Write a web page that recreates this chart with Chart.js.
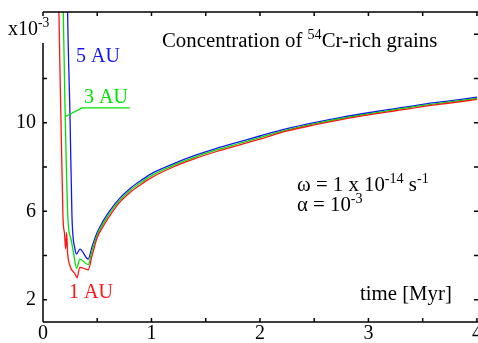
<!DOCTYPE html>
<html>
<head>
<meta charset="utf-8">
<script src="https://cdn.jsdelivr.net/npm/chart.js@4.4.0/dist/chart.umd.min.js"></script>
<style>
  html, body { margin: 0; padding: 0; background: #fff; }
  #chart { display: block; }
</style>
</head>
<body>
<canvas id="chart" width="478" height="343"></canvas>
<script>
// steep early part of each curve (time in Myr, concentration in 1e-3)
const time1AU = [0.143, 0.147, 0.165, 0.184, 0.199, 0.209, 0.218, 0.226, 0.249, 0.295, 0.313, 0.34, 0.417];
const conc1AU = [17, 14.95, 10.3, 5.78, 4.95, 4.3, 5.05, 4.16, 3.53, 3.17, 3.0, 3.47, 3.36];
const time3AU = [0.183, 0.187, 0.205, 0.23, 0.26, 0.279, 0.31, 0.34, 0.417];
const conc3AU = [17, 14.95, 10.3, 5.65, 4.7, 4.2, 3.42, 3.84, 3.59];
const time5AU = [0.222, 0.227, 0.249, 0.267, 0.295, 0.31, 0.34, 0.417];
const conc5AU = [17, 14.95, 10.27, 5.78, 4.29, 4.07, 4.29, 3.84];

// slow rise, shared time grid
const timeLate = [0.45, 0.5, 0.55, 0.6, 0.7, 0.8, 0.9, 1.0, 1.2, 1.4, 1.6, 1.8, 2.0, 2.25, 2.5, 2.75, 3.0, 3.25, 3.5, 3.75, 4.0];
const late1AU = [3.95, 4.81, 5.28, 5.68, 6.37, 6.84, 7.20, 7.52, 8.00, 8.38, 8.70, 8.98, 9.26, 9.63, 9.90, 10.14, 10.35, 10.54, 10.73, 10.89, 11.05];
const late3AU = [4.18, 4.93, 5.40, 5.80, 6.46, 6.93, 7.29, 7.61, 8.07, 8.45, 8.77, 9.05, 9.33, 9.68, 9.95, 10.19, 10.40, 10.59, 10.78, 10.94, 11.10];
const late5AU = [4.37, 5.05, 5.52, 5.92, 6.55, 7.02, 7.38, 7.70, 8.14, 8.52, 8.84, 9.12, 9.40, 9.73, 10.00, 10.24, 10.45, 10.64, 10.83, 10.99, 11.15];

// tick values and labels
const xTickValues = [0, 0.5, 1, 1.5, 2, 2.5, 3, 3.5, 4];
const xTickLabels = ['0', '', '1', '', '2', '', '3', '', '4'];
const yTickValues = [2, 4, 6, 8, 10, 12, 14];
const yTickLabels = ['2', '', '6', '', '10', '', ''];

const SERIF = '"Liberation Serif", "Times New Roman", serif';
const TEXT_SIZE = 20.8;

function toPoints(t1, c1, t2, c2) {
    return t1.map((t, i) => ({ x: t, y: c1[i] })).concat(t2.map((t, i) => ({ x: t, y: c2[i] })));
}

function richText(ctx, parts, x, y, size) {
    for (const [txt, sup] of parts) {
        ctx.font = (sup ? size * 0.68 : size) + 'px ' + SERIF;
        ctx.fillText(txt, x, sup ? y - size * 0.38 : y);
        x += ctx.measureText(txt).width;
    }
}

// frame with inward ticks, the gap in the left axis, and all annotations
const decorations = {
    id: 'decorations',
    afterDatasetsDraw(chart) {
        const { ctx, chartArea: a, scales: { x, y } } = chart;
        ctx.save();
        ctx.strokeStyle = '#000';
        ctx.lineWidth = 1.5;
        ctx.beginPath();
        ctx.moveTo(a.left, a.top); ctx.lineTo(a.right, a.top);
        ctx.moveTo(a.left, a.bottom); ctx.lineTo(a.right, a.bottom);
        ctx.moveTo(a.left, y.getPixelForValue(13.6)); ctx.lineTo(a.left, a.bottom);
        xTickValues.forEach((v) => {
            const px = x.getPixelForValue(v);
            ctx.moveTo(px, a.bottom); ctx.lineTo(px, a.bottom - 4);
            ctx.moveTo(px, a.top); ctx.lineTo(px, a.top + 4);
        });
        yTickValues.forEach((v) => {
            const py = y.getPixelForValue(v);
            if (v < 13.6) { ctx.moveTo(a.left, py); ctx.lineTo(a.left + 4, py); }
            ctx.moveTo(a.right, py); ctx.lineTo(a.right - 4, py);
        });
        ctx.stroke();

        // leader line for the 3 AU label
        ctx.strokeStyle = 'rgb(0,225,0)';
        ctx.lineWidth = 1.3;
        ctx.beginPath();
        ctx.moveTo(x.getPixelForValue(0.203), y.getPixelForValue(10.27));
        ctx.lineTo(x.getPixelForValue(0.36), y.getPixelForValue(10.67));
        ctx.lineTo(x.getPixelForValue(0.8), y.getPixelForValue(10.67));
        ctx.stroke();

        ctx.textAlign = 'left';
        ctx.textBaseline = 'alphabetic';
        ctx.fillStyle = '#000';
        richText(ctx, [['x10', false], ['-3', true]], 8, 35, 20);
        richText(ctx, [['Concentration of ', false], ['54', true], ['Cr-rich grains', false]], 162, 47, TEXT_SIZE);
        richText(ctx, [['\u03c9 = 1 x 10', false], ['-14', true], [' s', false], ['-1', true]], 297, 191, TEXT_SIZE);
        richText(ctx, [['\u03b1 = 10', false], ['-3', true]], 297, 211, TEXT_SIZE);
        richText(ctx, [['time [Myr]', false]], 360, 300, TEXT_SIZE);
        ctx.fillStyle = 'rgb(20,20,255)';
        richText(ctx, [['5 AU', false]], 76, 62, 20);
        ctx.fillStyle = 'rgb(0,225,0)';
        richText(ctx, [['3 AU', false]], 84, 103, 20);
        ctx.fillStyle = 'rgb(255,20,20)';
        richText(ctx, [['1 AU', false]], 69, 298, 20);
        ctx.restore();
    }
};

const lineStyle = { borderWidth: 1.3, pointRadius: 0, fill: false, cubicInterpolationMode: 'monotone' };

new Chart(document.getElementById('chart').getContext('2d'), {
    type: 'line',
    data: {
        datasets: [
            { label: '1 AU', data: toPoints(time1AU, conc1AU, timeLate, late1AU), borderColor: 'rgb(255,20,20)', ...lineStyle },
            { label: '3 AU', data: toPoints(time3AU, conc3AU, timeLate, late3AU), borderColor: 'rgb(0,225,0)', ...lineStyle },
            { label: '5 AU', data: toPoints(time5AU, conc5AU, timeLate, late5AU), borderColor: 'rgb(20,20,255)', ...lineStyle },
        ],
    },
    options: {
        responsive: false,
        animation: false,
        events: [],
        layout: { padding: { top: 12, left: 0, right: 0, bottom: 0 } },
        plugins: { legend: { display: false }, tooltip: { enabled: false } },
        scales: {
            x: {
                type: 'linear',
                min: 0,
                max: 4.01,
                grid: { display: false, drawTicks: false },
                border: { display: false },
                afterBuildTicks: (s) => { s.ticks = xTickValues.map((v) => ({ value: v })); },
                afterFit: (s) => { s.height = 21; s.paddingLeft = 0; s.paddingRight = 0; },
                ticks: {
                    autoSkip: false,
                    maxRotation: 0,
                    padding: 0,
                    color: '#000',
                    font: { family: SERIF, size: 20 },
                    callback: (v, i) => xTickLabels[i],
                },
            },
            y: {
                type: 'linear',
                min: 1,
                max: 15,
                grid: { display: false, drawTicks: false },
                border: { display: false },
                afterBuildTicks: (s) => { s.ticks = yTickValues.map((v) => ({ value: v })); },
                afterFit: (s) => { s.width = 43; s.paddingTop = 0; s.paddingBottom = 0; },
                ticks: {
                    autoSkip: false,
                    padding: 7,
                    color: '#000',
                    font: { family: SERIF, size: 20 },
                    callback: (v, i) => yTickLabels[i],
                },
            },
        },
    },
    plugins: [decorations],
});
</script>
</body>
</html>
